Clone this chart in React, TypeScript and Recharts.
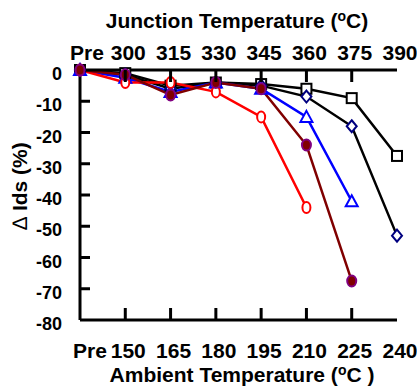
import React from "react";
import { LineChart, Line, XAxis, YAxis } from "recharts";

const ambientLabels = ["Pre", "150", "165", "180", "195", "210", "225", "240"];
const junctionLabels = ["Pre", "300", "315", "330", "345", "360", "375", "390"];
const yTicks = [0, -10, -20, -30, -40, -50, -60, -70, -80];

const squares = [0, -1, -5, -4, -4.5, -6, -9, -27.5];
const diamonds = [0, -1.5, -6, -4, -5, -8.5, -18, -53];
const triangles: (number | null)[] = [0, -2.5, -7, -4, -6, -15, -42, null];
const filledCircles: (number | null)[] = [0, -1.5, -8, -4, -6, -24, -67.5, null];
const openCircles: (number | null)[] = [0, -4, -4, -7, -15, -44, null, null];

const data = ambientLabels.map((a, i) => ({
  amb: a,
  junc: junctionLabels[i],
  sq: squares[i],
  di: diamonds[i],
  tr: triangles[i],
  fc: filledCircles[i],
  oc: openCircles[i],
}));

const FONT = "'Liberation Sans', Arial, sans-serif";

const SquareDot = (p: any) => {
  if (p.value == null || p.cy == null) return null;
  return <rect key={p.key} x={p.cx - 5} y={p.cy - 5} width={10} height={10} fill="#fff" stroke="#000" strokeWidth={2} />;
};
const DiamondDot = (p: any) => {
  if (p.value == null || p.cy == null) return null;
  const { cx, cy } = p;
  return <polygon key={p.key} points={`${cx},${cy - 6} ${cx + 5},${cy} ${cx},${cy + 6} ${cx - 5},${cy}`} fill="#fff" stroke="#000080" strokeWidth={2} />;
};
const TriangleDot = (p: any) => {
  if (p.value == null || p.cy == null) return null;
  const { cx, cy } = p;
  return <polygon key={p.key} points={`${cx},${cy - 6} ${cx + 6},${cy + 5} ${cx - 6},${cy + 5}`} fill="#fff" stroke="#0000ff" strokeWidth={2} />;
};
const FilledDot = (p: any) => {
  if (p.value == null || p.cy == null) return null;
  return <ellipse key={p.key} cx={p.cx} cy={p.cy} rx={4.5} ry={5.5} fill="#800000" stroke="#800080" strokeWidth={2} />;
};
const OpenDot = (p: any) => {
  if (p.value == null || p.cy == null) return null;
  return <ellipse key={p.key} cx={p.cx} cy={p.cy} rx={4} ry={5.5} fill="#fff" stroke="#ff0000" strokeWidth={2} />;
};

const BottomTick = (p: any) => {
  const { x, y, payload, index } = p;
  const n = ambientLabels.length;
  const inner = index > 0 && index < n - 1;
  const dx = index === 0 ? 10 : 3;
  return (
    <g>
      {inner && <line x1={x} x2={x} y1={y} y2={y - 12} stroke="#000" strokeWidth={3} />}
      <text x={x + dx} y={y + 38} textAnchor="middle" fontFamily={FONT} fontWeight="bold" fontSize={21} fill="#000">
        {payload.value}
      </text>
    </g>
  );
};

const TopTick = (p: any) => {
  const { x, y, payload, index } = p;
  const n = junctionLabels.length;
  const inner = index > 0 && index < n - 1;
  const dx = index === 0 ? 7 : 3;
  return (
    <g>
      {inner && <line x1={x} x2={x} y1={y} y2={y + 12} stroke="#000" strokeWidth={3} />}
      <text x={x + dx} y={y - 10} textAnchor="middle" fontFamily={FONT} fontWeight="bold" fontSize={21} fill="#000">
        {payload.value}
      </text>
    </g>
  );
};

const LeftTick = (p: any) => {
  const { x, y, payload } = p;
  const inner = payload.value !== 0 && payload.value !== -80;
  return (
    <g>
      {inner && <line x1={x} x2={x + 10} y1={y} y2={y} stroke="#000" strokeWidth={3} />}
      <text x={62} y={y + 10} textAnchor="end" fontFamily={FONT} fontWeight="bold" fontSize={18} fill="#000">
        {payload.value}
      </text>
    </g>
  );
};

const TopTitle = () => (
  <text x={237} y={28} textAnchor="middle" fontFamily={FONT} fontWeight="bold" fontSize={21} fill="#000">
    Junction Temperature (<tspan fontSize={14} dy={-7}>o</tspan><tspan dy={7}>C)</tspan>
  </text>
);
const BottomTitle = () => (
  <text x={242} y={382} textAnchor="middle" fontFamily={FONT} fontWeight="bold" fontSize={21} fill="#000">
    Ambient Temperature (<tspan fontSize={14} dy={-7}>o</tspan><tspan dy={7}>C )</tspan>
  </text>
);
const LeftTitle = () => (
  <text x={19} y={186} transform="rotate(-90 19 186)" textAnchor="middle" dominantBaseline="central" fontFamily={FONT} fontWeight="bold" fontSize={21} fill="#000">
    <tspan fontWeight="normal">∆</tspan> Ids (%)
  </text>
);

export default function App() {
  return (
    <div style={{ position: "absolute", left: 0, top: 0, width: 417, height: 388, background: "#fff" }}>
      <LineChart width={417} height={388} data={data} margin={{ top: 0, right: 20, bottom: 0, left: 0 }}>
        <XAxis
          dataKey="amb"
          xAxisId="bottom"
          orientation="bottom"
          height={68}
          interval={0}
          tickSize={0}
          tickMargin={0}
          tickLine={false}
          axisLine={{ stroke: "#000", strokeWidth: 3 }}
          tick={<BottomTick />}
          label={<BottomTitle />}
        />
        <XAxis
          dataKey="junc"
          xAxisId="top"
          orientation="top"
          height={70}
          interval={0}
          tickSize={0}
          tickMargin={0}
          tickLine={false}
          axisLine={{ stroke: "#000", strokeWidth: 3 }}
          tick={<TopTick />}
          label={<TopTitle />}
        />
        <YAxis
          yAxisId="left"
          width={80}
          domain={[-80, 0]}
          ticks={yTicks}
          interval={0}
          tickSize={0}
          tickMargin={0}
          tickLine={false}
          axisLine={{ stroke: "#000", strokeWidth: 3 }}
          tick={<LeftTick />}
          label={<LeftTitle />}
        />
        <YAxis
          yAxisId="right"
          orientation="right"
          width={0}
          domain={[-80, 0]}
          tick={false}
          tickLine={false}
          axisLine={{ stroke: "#000", strokeWidth: 3 }}
        />
        <Line xAxisId="bottom" yAxisId="left" dataKey="sq" stroke="#000" strokeWidth={2.5} dot={SquareDot} activeDot={false} isAnimationActive={false} />
        <Line xAxisId="bottom" yAxisId="left" dataKey="di" stroke="#000" strokeWidth={2.5} dot={DiamondDot} activeDot={false} isAnimationActive={false} />
        <Line xAxisId="bottom" yAxisId="left" dataKey="tr" stroke="#0000ff" strokeWidth={2.5} dot={TriangleDot} activeDot={false} isAnimationActive={false} />
        <Line xAxisId="bottom" yAxisId="left" dataKey="oc" stroke="#ff0000" strokeWidth={2.5} dot={OpenDot} activeDot={false} isAnimationActive={false} />
        <Line xAxisId="bottom" yAxisId="left" dataKey="fc" stroke="#800000" strokeWidth={2.5} dot={FilledDot} activeDot={false} isAnimationActive={false} />
      </LineChart>
    </div>
  );
}
